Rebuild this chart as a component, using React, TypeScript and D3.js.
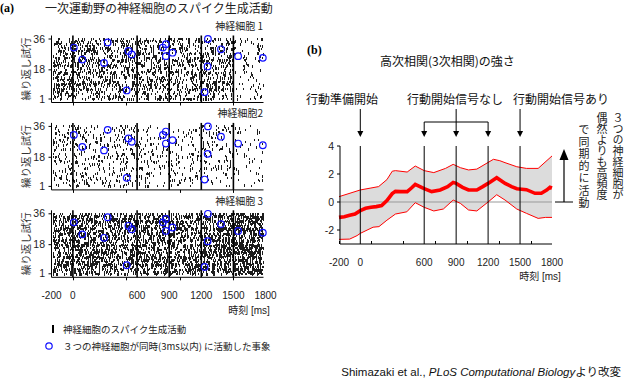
import React from "react";
import * as d3 from "d3";

// ---------- DATA ----------
// spike raster: firing rate (Hz) read per 100 ms bin, bins start at these times
const binStarts = [-200, -100, 0, 100, 200, 300, 400, 500, 600, 700, 800, 900, 1000, 1100, 1200, 1300, 1400, 1500, 1600, 1700];
const neuron1Rate = [34, 34, 34, 34, 36, 34, 34, 34, 32, 32, 32, 32, 27, 27, 30, 30, 30, 9, 9, 9];
const neuron2Rate = [16, 16, 14, 14, 14, 14, 14, 14, 10, 10, 10, 10, 10, 10, 12, 12, 12, 6, 6, 6];
const neuron3Rate = [52, 52, 52, 52, 52, 52, 52, 52, 50, 50, 50, 50, 50, 50, 55, 55, 55, 72, 72, 72];
const neuronLabels = ["神経細胞 1", "神経細胞2", "神経細胞 3"];

// coincident (within 3 ms) events of all three neurons
const syncTimes = [9, 88, 291, 325, 503, 519, 550, 841, 869, 869, 931, 1231, 1259, 1262, 1384, 1544, 1775];
const syncTrials = [31, 24, 22, 34, 6, 29, 27, 31, 33, 26, 28, 5, 20, 36, 30, 26, 25];

const eventTimes = [0, 600, 900, 1200, 1500];
const xTickLabels = [-200, 0, 600, 900, 1200, 1500, 1800];
const rasterMinorTicks = [0, 500, 1000, 1500];
const corrMinorTicks = [-200, 100, 400, 700, 1000, 1300, 1600];
const trialTicks = [36, 18, 1];
const corrYTicks = [4, 2, 0, -2];

// higher-order correlation strength
const meanT = [-200, -150, -100, -50, 0, 50, 100, 150, 200, 250, 300, 330, 380, 440, 480, 516, 560, 600, 670, 750, 820, 872, 900, 960, 1016, 1094, 1150, 1200, 1281, 1360, 1420, 1470, 1560, 1640, 1700, 1750, 1781, 1800];
const meanV = [-1.1, -1.05, -0.95, -0.86, -0.62, -0.45, -0.38, -0.33, -0.25, 0.1, 0.6, 0.76, 0.74, 0.74, 1.0, 1.26, 1.1, 0.95, 0.74, 0.86, 1.1, 1.4, 1.33, 1.05, 0.86, 0.86, 1.1, 1.33, 1.74, 1.33, 1.1, 0.95, 0.88, 0.62, 0.62, 0.85, 1.05, 1.0];
const upperT = [-200, 0, 100, 172, 250, 300, 330, 440, 516, 600, 690, 800, 872, 940, 1016, 1094, 1250, 1310, 1359, 1469, 1560, 1670, 1800];
const upperV = [0.38, 0.86, 1.0, 1.1, 1.6, 2.2, 2.24, 2.14, 2.57, 2.24, 2.1, 2.4, 2.69, 2.45, 2.29, 2.35, 3.05, 2.95, 2.81, 2.52, 2.4, 2.4, 3.29];
const lowerT = [-200, -100, -30, 0, 120, 175, 250, 330, 437, 516, 600, 690, 780, 872, 940, 1016, 1094, 1200, 1281, 1359, 1469, 1560, 1670, 1740, 1800];
const lowerV = [-2.67, -2.65, -2.4, -2.24, -1.8, -1.76, -1.3, -0.86, -0.7, -0.05, -0.38, -0.64, -0.5, 0.14, -0.1, -0.57, -0.64, 0.0, 0.52, 0.14, -0.5, -0.81, -1.17, -1.1, -1.1];

// ---------- helpers ----------
const FONT = "'Liberation Sans', 'Noto Sans CJK JP', sans-serif";
const JP = "'Noto Sans CJK JP', sans-serif";

// deterministic texture generator for the raster (rates above drive the density)
function mulberry32(a: number) {
  return function () {
    a |= 0; a = (a + 0x6d2b79f5) | 0;
    let t = Math.imul(a ^ (a >>> 15), 1 | a);
    t = (t + Math.imul(t ^ (t >>> 7), 61 | t)) ^ t;
    return ((t ^ (t >>> 14)) >>> 0) / 4294967296;
  };
}

const xA = d3.scaleLinear().domain([-200, 1800]).range([51.5, 265.5]);
const xB = d3.scaleLinear().domain([-200, 1800]).range([339, 552]);
const yB = d3.scaleLinear().domain([-3, 4]).range([244, 146]);

function rasterPath(rates: number[], seed: number, bottom: number) {
  const yT = d3.scaleLinear().domain([1, 36]).range([bottom - 3.5, bottom - 63.5]);
  const rnd = mulberry32(seed);
  const p = d3.path();
  const step = 2;
  for (let tr = 1; tr <= 36; tr++) {
    const yc = yT(tr);
    for (let t = -198; t < 1775; t += step) {
      const bi = Math.min(binStarts.length - 1, Math.floor((t + 200) / 100));
      if (rnd() < (rates[bi] * step) / 1000) {
        const x = Math.round(xA(t + rnd() * step)) + 0.5;
        if (x <= 52.5 || x > 263.5) continue;
        const h = rnd() < 0.5 ? 2 : 3;
        p.moveTo(x, Math.round(yc - 1));
        p.lineTo(x, Math.round(yc - 1) + h);
      }
    }
  }
  return p.toString();
}

function Raster({ idx, rates }: { idx: number; rates: number[] }) {
  const bottom = 102.5 + 87.4 * idx;
  const top = bottom - 67;
  const yT = d3.scaleLinear().domain([1, 36]).range([bottom - 3.5, bottom - 63.5]);
  const d = React.useMemo(() => rasterPath(rates, 1234 + idx * 977, bottom), [idx]);
  return (
    <g>
      <text x={263} y={bottom - 72.5} textAnchor="end" fontSize={10} fontFamily={JP} fill="#222">{neuronLabels[idx]}</text>
      <path d={d} stroke="#1c1c1c" strokeWidth={1} shapeRendering="crispEdges" fill="none" />
      {eventTimes.map((t) => (
        <line key={t} x1={xA(t)} x2={xA(t)} y1={top} y2={bottom} stroke="#000" strokeWidth={1.6} />
      ))}
      <line x1={51.5} x2={51.5} y1={top} y2={bottom} stroke="#000" strokeWidth={1} />
      <line x1={51.5} x2={263.5} y1={bottom} y2={bottom} stroke="#000" strokeWidth={1} />
      {rasterMinorTicks.map((t) => (
        <line key={t} x1={Math.round(xA(t)) + 0.5} x2={Math.round(xA(t)) + 0.5} y1={bottom} y2={bottom + 3} stroke="#000" />
      ))}
      {trialTicks.map((tr) => (
        <g key={tr}>
          <line x1={48.5} x2={51.5} y1={yT(tr)} y2={yT(tr)} stroke="#000" />
          <text x={45} y={yT(tr) + 3.6} textAnchor="end" fontSize={10.5} fontFamily={FONT} fill="#222">{tr}</text>
        </g>
      ))}
      <text transform={`translate(30,${(top + bottom) / 2}) rotate(-90)`} textAnchor="middle" fontSize={10.5} fontFamily={JP} fill="#333">繰り返し試行</text>
      {syncTimes.map((t, i) => (
        <circle key={i} cx={xA(t)} cy={yT(syncTrials[i])} r={3.3} fill="none" stroke="#1010ff" strokeWidth={1.2} />
      ))}
    </g>
  );
}

function Arrow({ x, y1, y2 }: { x: number; y1: number; y2: number }) {
  return (
    <g>
      <line x1={x} x2={x} y1={y1} y2={y2 - 4} stroke="#000" strokeWidth={1} />
      <path d={`M${x - 3},${y2 - 6}L${x + 3},${y2 - 6}L${x},${y2}Z`} fill="#000" />
    </g>
  );
}

export default function App() {
  const lineGen = d3.line<[number, number]>().x((d) => xB(d[0])).y((d) => yB(d[1]));
  const meanPts = meanT.map((t, i) => [t, meanV[i]] as [number, number]);
  const upPts = upperT.map((t, i) => [t, upperV[i]] as [number, number]);
  const loPts = lowerT.map((t, i) => [t, lowerV[i]] as [number, number]);
  const band = lineGen([...upPts, ...loPts.slice().reverse()]) + "Z";
  const rasterBottom3 = 102.5 + 87.4 * 2;

  return (
    <svg width={625} height={379} style={{ position: "absolute", left: 0, top: 0, background: "#fff" }}>
      <rect width={625} height={379} fill="#fff" />
      {/* ---------- panel (a) ---------- */}
      <text x={0} y={12} fontSize={12} fontWeight="bold" fontFamily="'Liberation Serif', serif">(a)</text>
      <text x={45} y={12.5} fontSize={12} fontFamily={JP} fill="#222">一次運動野の神経細胞のスパイク生成活動</text>
      <Raster idx={0} rates={neuron1Rate} />
      <Raster idx={1} rates={neuron2Rate} />
      <Raster idx={2} rates={neuron3Rate} />
      {xTickLabels.map((t) => (
        <text key={t} x={xA(t)} y={rasterBottom3 + 22} textAnchor="middle" fontSize={10} fontFamily={FONT} fill="#222">{t}</text>
      ))}
      <text x={249} y={314} textAnchor="middle" fontSize={10} fontFamily={FONT} fill="#222">時刻 [ms]</text>
      {/* legend */}
      <line x1={53} x2={53} y1={325} y2={333} stroke="#000" strokeWidth={2} />
      <text x={63} y={332.5} fontSize={9.5} fontFamily={JP} fill="#222">神経細胞のスパイク生成活動</text>
      <circle cx={49} cy={346} r={3.2} fill="none" stroke="#1010ff" strokeWidth={1.2} />
      <text x={63} y={349.5} fontSize={9.5} fontFamily={JP} fill="#222">３つの神経細胞が同時(3ms以内) に活動した事象</text>

      {/* ---------- panel (b) ---------- */}
      <text x={307} y={54} fontSize={12} fontWeight="bold" fontFamily="'Liberation Serif', serif">(b)</text>
      <text x={380} y={65.5} fontSize={12} fontFamily={JP} fill="#111">高次相関(3次相関)の強さ</text>
      <text x={306} y={103.5} fontSize={12} fontFamily={JP} fill="#111">行動準備開始</text>
      <text x={407} y={103.5} fontSize={12} fontFamily={JP} fill="#111">行動開始信号なし</text>
      <text x={513} y={103.5} fontSize={12} fontFamily={JP} fill="#111">行動開始信号あり</text>
      <Arrow x={xB(0)} y1={109} y2={137} />
      <Arrow x={xB(900)} y1={109} y2={137} />
      <Arrow x={xB(600)} y1={122} y2={137} />
      <Arrow x={xB(1200)} y1={122} y2={137} />
      <Arrow x={xB(1500)} y1={109} y2={137} />
      <line x1={xB(600)} x2={xB(1200)} y1={122} y2={122} stroke="#000" />

      <path d={band} fill="#dcdcdc" stroke="none" />
      <line x1={340} x2={552} y1={yB(0)} y2={yB(0)} stroke="#999" strokeWidth={1} />
      <path d={lineGen(upPts) || ""} fill="none" stroke="#ff0000" strokeWidth={1} />
      <path d={lineGen(loPts) || ""} fill="none" stroke="#ff0000" strokeWidth={1} />
      <path d={lineGen(meanPts) || ""} fill="none" stroke="#ff0000" strokeWidth={3.6} />
      {eventTimes.map((t) => (
        <line key={t} x1={xB(t)} x2={xB(t)} y1={146} y2={244} stroke="#000" strokeWidth={1} />
      ))}
      <line x1={340} x2={340} y1={146} y2={244} stroke="#000" />
      <line x1={340} x2={552} y1={244} y2={244} stroke="#000" />
      {corrYTicks.map((v) => (
        <g key={v}>
          <line x1={337} x2={340} y1={yB(v)} y2={yB(v)} stroke="#000" />
          <text x={334} y={yB(v) + 4} textAnchor="end" fontSize={10.5} fontFamily={FONT} fill="#222">{v}</text>
        </g>
      ))}
      {corrMinorTicks.map((t) => (
        <line key={t} x1={Math.round(xB(t)) + 0.5} x2={Math.round(xB(t)) + 0.5} y1={244} y2={241} stroke="#000" />
      ))}
      {xTickLabels.map((t) => (
        <text key={t} x={xB(t)} y={265.5} textAnchor="middle" fontSize={10} fontFamily={FONT} fill="#222">{t}</text>
      ))}
      <text x={540} y={280} textAnchor="middle" fontSize={10} fontFamily={FONT} fill="#222">時刻 [ms]</text>

      {/* right annotation */}
      <line x1={555} x2={573} y1={yB(0)} y2={yB(0)} stroke="#000" />
      <line x1={564} x2={564} y1={yB(0)} y2={158} stroke="#000" strokeWidth={1.2} />
      <path d="M559.5,160L568.5,160L564,149Z" fill="#000" />
      <text x={618} y={112} fontSize={11} fontFamily={JP} fill="#222" style={{ writingMode: "vertical-rl" }}>３つの神経細胞が</text>
      <text x={602} y={112} fontSize={11} fontFamily={JP} fill="#222" style={{ writingMode: "vertical-rl" }}>偶然よりも高頻度</text>
      <text x={584} y={124} fontSize={11} letterSpacing={1.2} fontFamily={JP} fill="#222" style={{ writingMode: "vertical-rl" }}>で同期的に活動</text>

      <text x={621} y={375.5} textAnchor="end" fontSize={11.5} fontFamily={FONT} fill="#111">
        Shimazaki et al., <tspan fontStyle="italic">PLoS Computational Biology</tspan>より改変
      </text>
    </svg>
  );
}
